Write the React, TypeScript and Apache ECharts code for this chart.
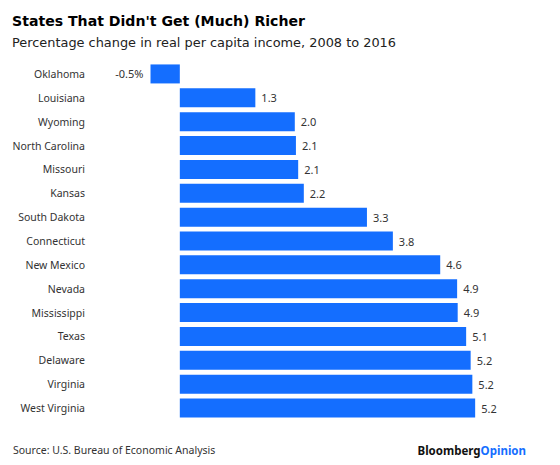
import React, { useEffect, useRef } from "react";
import * as echarts from "echarts";

const states = [
  "Oklahoma",
  "Louisiana",
  "Wyoming",
  "North Carolina",
  "Missouri",
  "Kansas",
  "South Dakota",
  "Connecticut",
  "New Mexico",
  "Nevada",
  "Mississippi",
  "Texas",
  "Delaware",
  "Virginia",
  "West Virginia",
];

const changes = [
  -0.52, 1.34, 2.04, 2.06, 2.1, 2.2, 3.32, 3.78, 4.62, 4.92, 4.93, 5.08, 5.16, 5.19, 5.24,
];

const titleText = "States That Didn't Get (Much) Richer";
const subtitleText = "Percentage change in real per capita income, 2008 to 2016";
const sourceText = "Source: U.S. Bureau of Economic Analysis";

const BLUE = "#146eff";
const FONT = "'Noto Sans', 'Open Sans', sans-serif";
const WIDE = "'DejaVu Sans', 'Noto Sans', sans-serif";

export default function App() {
  const ref = useRef<HTMLDivElement>(null);

  useEffect(() => {
    document.body.style.margin = "0";
    if (!ref.current) return;
    const chart = echarts.init(ref.current, undefined, { renderer: "svg" });
    chart.setOption({
      animation: false,
      backgroundColor: "#ffffff",
      textStyle: { fontFamily: FONT },
      grid: { left: 146, right: 42, top: 62, bottom: 45, containLabel: false },
      xAxis: {
        type: "value",
        min: -0.6,
        max: 6,
        show: false,
      },
      yAxis: {
        type: "category",
        data: states,
        inverse: true,
        axisLine: { show: false },
        axisTick: { show: false },
        splitLine: { show: false },
        axisLabel: {
          margin: 61,
          color: "#333333",
          fontSize: 10.5,
          fontFamily: FONT,
        },
      },
      series: [
        {
          type: "bar",
          barWidth: 19,
          itemStyle: { color: BLUE },
          data: changes.map((v) => ({
            value: v,
            label: {
              show: true,
              position: v < 0 ? "left" : "right",
              distance: v < 0 ? 7 : 6,
              color: "#333333",
              fontSize: 11,
              fontFamily: FONT,
              formatter: () => (v < 0 ? v.toFixed(1) + "%" : v.toFixed(1)),
            },
          })),
        },
      ],
      graphic: [
        {
          type: "text",
          left: 12,
          top: 14,
          style: {
            text: titleText,
            fill: "#000000",
            font: "bold 14.1px " + WIDE,
          },
        },
        {
          type: "text",
          left: 12,
          top: 36,
          style: {
            text: subtitleText,
            fill: "#222222",
            font: "12.9px " + WIDE,
          },
        },
        {
          type: "text",
          left: 13,
          top: 444,
          style: {
            text: sourceText,
            fill: "#333333",
            font: "10.5px " + FONT,
          },
        },
        {
          type: "text",
          right: 34,
          top: 444,
          style: {
            text: "{a|Bloomberg}{b|Opinion}",
            rich: {
              a: { fill: "#111111", font: "bold 11.5px " + FONT },
              b: { fill: BLUE, font: "bold 11.5px " + FONT },
            },
          },
        },
      ],
    });
    return () => chart.dispose();
  }, []);

  return <div ref={ref} style={{ width: 560, height: 465 }} />;
}
